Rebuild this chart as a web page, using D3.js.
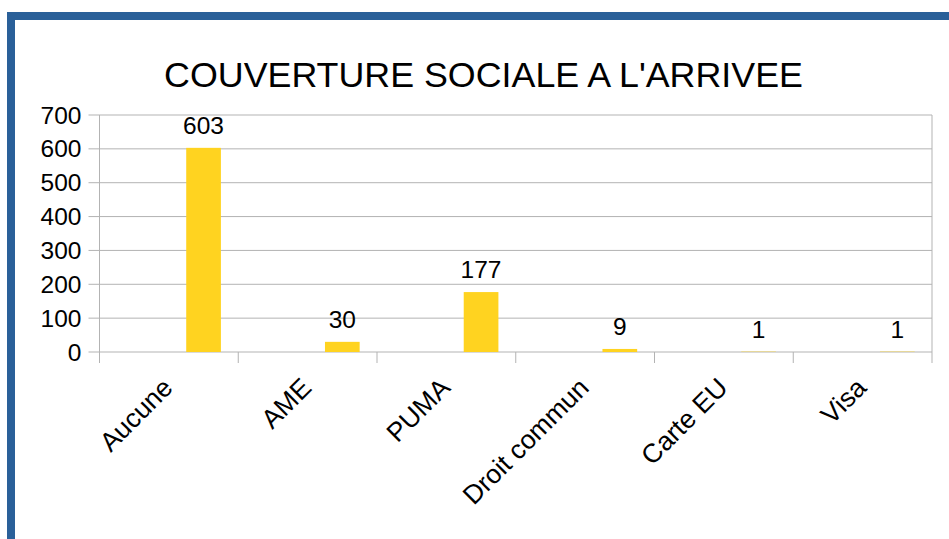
<!DOCTYPE html>
<html>
<head>
<meta charset="utf-8">
<script src="https://cdn.jsdelivr.net/npm/d3@7"></script>
<style>
  body { margin: 0; background: #fff; }
  svg { display: block; font-family: 'Liberation Sans', Arial, sans-serif; }
</style>
</head>
<body>
<div id="chart"></div>
<script>
const categories = ['Aucune', 'AME', 'PUMA', 'Droit commun', 'Carte EU', 'Visa'];
const values = [603, 30, 177, 9, 1, 1];
const yTicks = [0, 100, 200, 300, 400, 500, 600, 700];
const title = "COUVERTURE SOCIALE A L'ARRIVEE";

const width = 949;
const height = 539;
const margin = { top: 115, right: 17, bottom: 187, left: 99.5 };
const innerW = width - margin.left - margin.right;
const innerH = height - margin.top - margin.bottom;

const svg = d3.select('#chart')
  .append('svg')
  .attr('width', width)
  .attr('height', height);

// blue frame (only top and left edges visible)
svg.append('rect')
  .attr('x', 11)
  .attr('y', 16)
  .attr('width', 2000)
  .attr('height', 2000)
  .attr('fill', 'none')
  .attr('stroke', '#2a6099')
  .attr('stroke-width', 8);

svg.append('text')
  .attr('x', 483.5)
  .attr('y', 87)
  .attr('text-anchor', 'middle')
  .attr('font-size', '35.8px')
  .attr('fill', '#000')
  .text(title);

const g = svg.append('g')
  .attr('transform', `translate(${margin.left},${margin.top})`);

const x = d3.scaleBand()
  .domain(categories)
  .range([0, innerW]);

const y = d3.scaleLinear()
  .domain([0, 700])
  .range([innerH, 0]);

// gridlines
g.selectAll('.grid')
  .data(yTicks)
  .enter()
  .append('line')
  .attr('x1', -11)
  .attr('x2', innerW)
  .attr('y1', d => y(d))
  .attr('y2', d => y(d))
  .attr('stroke', '#b3b3b3')
  .attr('stroke-width', 1);

// y axis line and right frame
g.append('line')
  .attr('x1', 0).attr('x2', 0)
  .attr('y1', 0).attr('y2', innerH + 11)
  .attr('stroke', '#b3b3b3');
g.append('line')
  .attr('x1', innerW).attr('x2', innerW)
  .attr('y1', 0).attr('y2', innerH + 11)
  .attr('stroke', '#b3b3b3');

// category ticks
g.selectAll('.ctick')
  .data(categories.slice(1))
  .enter()
  .append('line')
  .attr('x1', d => x(d))
  .attr('x2', d => x(d))
  .attr('y1', innerH)
  .attr('y2', innerH + 11)
  .attr('stroke', '#b3b3b3');

// y labels
g.selectAll('.ylab')
  .data(yTicks)
  .enter()
  .append('text')
  .attr('x', -18)
  .attr('y', d => y(d))
  .attr('dy', '0.35em')
  .attr('text-anchor', 'end')
  .attr('font-size', '24.5px')
  .attr('fill', '#000')
  .text(d => d);

// bars
const barW = x.bandwidth() * 0.25;
const barX = d => x(d) + x.bandwidth() * 0.625;

g.selectAll('.bar')
  .data(categories)
  .enter()
  .append('rect')
  .attr('x', d => barX(d))
  .attr('width', barW)
  .attr('y', (d, i) => y(values[i]))
  .attr('height', (d, i) => innerH - y(values[i]))
  .attr('fill', '#ffd320');

// value labels
g.selectAll('.vlab')
  .data(categories)
  .enter()
  .append('text')
  .attr('x', d => barX(d) + barW / 2)
  .attr('y', (d, i) => y(values[i]) - 14)
  .attr('text-anchor', 'middle')
  .attr('font-size', '24.5px')
  .attr('fill', '#000')
  .text((d, i) => values[i]);

// category labels
g.selectAll('.clab')
  .data(categories)
  .enter()
  .append('text')
  .attr('transform', d => `translate(${x(d) + x.bandwidth() / 2 - 8},${innerH + 24}) rotate(-45)`)
  .attr('dy', '0.71em')
  .attr('text-anchor', 'end')
  .attr('font-size', '26.5px')
  .attr('fill', '#000')
  .text(d => d);
</script>
</body>
</html>
